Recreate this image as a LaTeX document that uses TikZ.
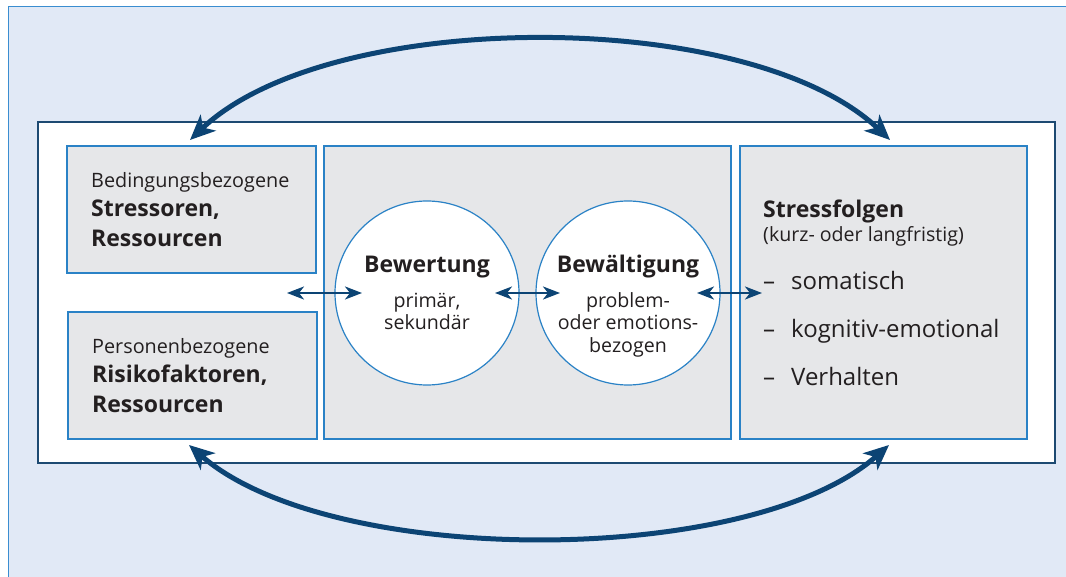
\documentclass[tikz,border=0pt]{standalone}
\usepackage{fontspec}
\setmainfont{Open Sans}
\usetikzlibrary{arrows.meta}
\definecolor{bgblue}{HTML}{E1E9F6}
\definecolor{edgeblue}{HTML}{3A8DD0}
\definecolor{boxgray}{HTML}{E6E7E9}
\definecolor{boxedge}{HTML}{2A82C6}
\definecolor{navy}{HTML}{0C4474}
\definecolor{framenavy}{HTML}{1D4A72}
\definecolor{txt}{HTML}{231F20}
\tikzset{
  graybox/.style={draw=boxedge, fill=boxgray, line width=1.2pt, inner sep=0pt},
  framebox/.style={draw=framenavy, fill=white, line width=1.2pt, inner sep=0pt},
  circ/.style={circle, draw=boxedge, fill=white, line width=1.2pt, minimum size=184pt, inner sep=0pt},
  lbl/.style={text=txt, inner sep=0pt, anchor=base west},
  clbl/.style={text=txt, inner sep=0pt, anchor=base},
  smallf/.style={font=\fontsize{19.8}{21}\selectfont},
  boldf/.style={font=\fontsize{23}{25}\selectfont\bfseries},
  listf/.style={font=\fontsize{24}{26}\selectfont},
  circf/.style={font=\fontsize{19.6}{21}\selectfont},
  harrow/.style={navy, line width=2.3pt, {Stealth[length=17pt,width=13pt,inset=5pt]}-{Stealth[length=17pt,width=13pt,inset=5pt]}},
  bigarrow/.style={navy, line width=5pt, {Stealth[length=25pt,width=22pt,inset=7pt]}-{Stealth[length=25pt,width=22pt,inset=7pt]}}
}
\begin{document}
\begin{tikzpicture}[x=1pt,y=-1pt]
\useasboundingbox (0,0) rectangle (1066,577);
\fill[bgblue] (8,7) rectangle (1080,590);
\draw[edgeblue, line width=1pt] (8,590) -- (8,7) -- (1080,7);

\node[framebox, minimum width=1017pt, minimum height=341pt] (frame) at (546.5,292.5) {};

\node[graybox, minimum width=249pt, minimum height=127pt] (b1) at (191.5,209.5) {};
\node[graybox, minimum width=249pt, minimum height=127pt] (b2) at (192.5,375.5) {};
\node[graybox, minimum width=407pt, minimum height=293pt] (mid) at (527.5,292.5) {};
\node[graybox, minimum width=287pt, minimum height=293pt] (res) at (883.5,292.5) {};

\node[circ] (c1) at (427,293) {};
\node[circ] (c2) at (628,293) {};

% box 1 text
\node[lbl, smallf] (t1a) at (91,188) {Bedingungsbezogene};
\node[lbl, boldf] (t1b) at (91,217) {Stressoren,};
\node[lbl, boldf] (t1c) at (91,247) {Ressourcen};
% box 2 text
\node[lbl, smallf] (t2a) at (92,354) {Personenbezogene};
\node[lbl, boldf] (t2b) at (92,383) {Risikofaktoren,};
\node[lbl, boldf] (t2c) at (92,413) {Ressourcen};

% circle texts
\node[clbl, boldf] (c1a) at (427,273) {Bewertung};
\node[clbl, circf] (c1b) at (427,308) {primär,};
\node[clbl, circf] (c1c) at (427,330) {sekundär};
\node[clbl, boldf] (c2a) at (628,273) {Bewältigung};
\node[clbl, circf] (c2b) at (628,308) {problem-};
\node[clbl, circf] (c2c) at (628,330) {oder emotions-};
\node[clbl, circf] (c2d) at (628,353) {bezogen};

% right box text
\node[lbl, boldf] (r1) at (763,218) {Stressfolgen};
\node[lbl, circf] (r2) at (763,242) {(kurz- oder langfristig)};
\node[lbl, listf] (d1) at (763,290) {–};
\node[lbl, listf] (l1) at (791,290) {somatisch};
\node[lbl, listf] (d2) at (763,338) {–};
\node[lbl, listf] (l2) at (791,338) {kognitiv-emotional};
\node[lbl, listf] (d3) at (763,385) {–};
\node[lbl, listf] (l3) at (791,385) {Verhalten};

% horizontal arrows
\coordinate (h1a) at (287,293);
\coordinate (h1b) at (362,293);
\coordinate (h2a) at (495,293);
\coordinate (h2b) at (560,293);
\coordinate (h3a) at (697,293);
\coordinate (h3b) at (762,293);
\draw[harrow] (h1a) -- (h1b);
\draw[harrow] (h2a) -- (h2b);
\draw[harrow] (h3a) -- (h3b);

% curved arrows
\coordinate (tl) at (190,140);
\coordinate (tr) at (890,140);
\coordinate (bl) at (189,445);
\coordinate (br) at (889,445);
\draw[bigarrow] (tl) .. controls (330,7) and (750,7) .. (tr);
\draw[bigarrow] (bl) .. controls (330,568) and (750,568) .. (br);
\end{tikzpicture}
\end{document}
